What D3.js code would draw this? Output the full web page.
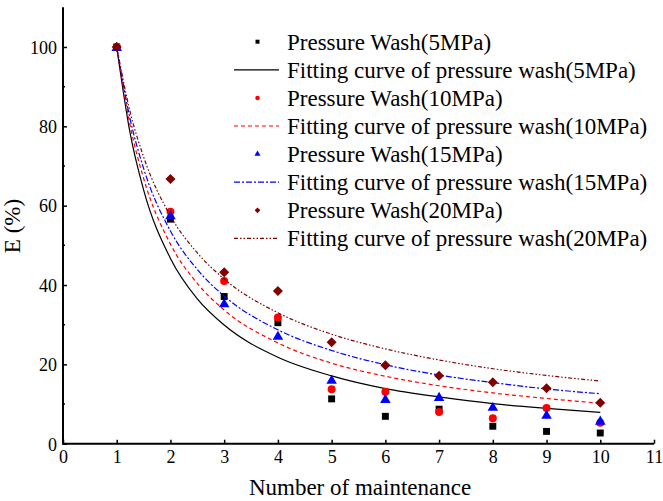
<!DOCTYPE html>
<meta charset="utf-8">
<style>
body { margin: 0; background: #fff; }
text { font-family: "Liberation Serif", "Times New Roman", serif; }
</style>
<body>
<script src="https://d3js.org/d3.v7.min.js"></script>
<script>
// measured points (E %, by number of maintenance)
var runs = [1, 2, 3, 4, 5, 6, 7, 8, 9, 10];
var wash5  = [100, 56.6, 37.1, 30.5, 11.3, 6.9, 8.7, 4.4, 3.1, 2.7];
var wash10 = [100, 58.5, 41.0, 31.8, 13.7, 13.1, 8.0, 6.4, 9.0, 5.3];
var wash15 = [100, 57.6, 35.4, 27.2, 16.1, 11.3, 11.8, 9.3, 7.3, 5.8];
var wash20 = [100, 66.7, 43.2, 38.5, 25.6, 19.8, 17.1, 15.5, 14.0, 10.3];

// fitting curves
var fitX   = [1, 1.25, 1.5, 2, 2.5, 3, 4, 5, 6, 7, 8, 9, 10];
var fit5   = [100, 78.2, 64.0, 46.7, 36.5, 29.9, 21.8, 17.1, 13.9, 11.8, 10.1, 8.9, 7.9];
var fit10  = [100, 80.2, 66.9, 50.3, 40.4, 33.7, 25.4, 20.3, 17.0, 14.6, 12.8, 11.4, 10.2];
var fit15  = [100, 81.8, 69.4, 53.6, 43.9, 37.2, 28.7, 23.5, 19.9, 17.3, 15.4, 13.8, 12.6];
var fit20  = [100, 83.6, 72.3, 57.4, 48.1, 41.5, 33.0, 27.6, 23.9, 21.1, 18.9, 17.2, 15.8];

var xTicks = [0, 1, 2, 3, 4, 5, 6, 7, 8, 9, 10, 11];
var yTicks = [0, 20, 40, 60, 80, 100];

var series = [
  {pts: wash5,  fit: fit5,  color: "#000000", shape: "square",   dash: null,          name: "Pressure Wash(5MPa)",  fitName: "Fitting curve of pressure wash(5MPa)"},
  {pts: wash10, fit: fit10, color: "#ff0000", shape: "circle",   dash: "4,3",         name: "Pressure Wash(10MPa)", fitName: "Fitting curve of pressure wash(10MPa)"},
  {pts: wash15, fit: fit15, color: "#0000ff", shape: "triangle", dash: "6,2,2,2",     name: "Pressure Wash(15MPa)", fitName: "Fitting curve of pressure wash(15MPa)"},
  {pts: wash20, fit: fit20, color: "#800000", shape: "diamond",  dash: "4,2,1.5,2,1.5,2", name: "Pressure Wash(20MPa)", fitName: "Fitting curve of pressure wash(20MPa)"}
];

var W = 663, H = 501;
var x = d3.scaleLinear().domain([0, 11]).range([63, 654]);
var y = d3.scaleLinear().domain([0, 110]).range([443.7, 7.3]);

var svg = d3.select("body").append("svg")
    .attr("width", W)
    .attr("height", H);

// diamond = square turned 45 degrees
function symbolFor(shape, size) {
  var t = {square: d3.symbolSquare, circle: d3.symbolCircle, triangle: d3.symbolTriangle, diamond: d3.symbolSquare}[shape];
  return d3.symbol().type(t).size(size)();
}
var sizes = {square: 48, circle: 50, triangle: 48, diamond: 50};

var line = d3.line()
    .x(function(d) { return x(d[0]); })
    .y(function(d) { return y(d[1]); })
    .curve(d3.curveMonotoneX);

series.forEach(function(s) {
  svg.append("g").selectAll("path")
      .data(s.pts)
    .enter().append("path")
      .attr("d", symbolFor(s.shape, sizes[s.shape]))
      .attr("transform", function(d, i) {
        var dy = s.shape === "triangle" ? 1 : 0;
        return "translate(" + x(runs[i]) + "," + (y(d) + dy) + ")" + (s.shape === "diamond" ? " rotate(45)" : "");
      })
      .attr("fill", s.color);

  svg.append("path")
      .datum(fitX.map(function(v, i) { return [v, s.fit[i]]; }))
      .attr("d", line)
      .attr("fill", "none")
      .attr("stroke", s.color)
      .attr("stroke-width", 1.2)
      .attr("stroke-dasharray", s.dash);
});

// axes
var xAxis = svg.append("g")
    .attr("transform", "translate(0," + y(0) + ")")
    .call(d3.axisBottom(x).tickValues(xTicks).tickSizeInner(-4).tickSizeOuter(0).tickPadding(6).tickFormat(d3.format("d")));
var yAxis = svg.append("g")
    .attr("transform", "translate(" + x(0) + ",0)")
    .call(d3.axisLeft(y).tickValues(yTicks).tickSizeInner(-4).tickSizeOuter(0).tickPadding(6));

// minor y ticks
svg.append("g").selectAll("line")
    .data([10, 30, 50, 70, 90])
  .enter().append("line")
    .attr("x1", x(0)).attr("x2", x(0) + 2)
    .attr("y1", function(d) { return y(d); })
    .attr("y2", function(d) { return y(d); })
    .attr("stroke", "#000").attr("stroke-width", 1.5);

[xAxis, yAxis].forEach(function(a) {
  a.select(".domain").attr("stroke", "#000").attr("stroke-width", 2);
  a.selectAll(".tick line").attr("stroke", "#000").attr("stroke-width", 1.5);
  a.selectAll(".tick text").attr("font-size", 18).attr("fill", "#000");
});
yAxis.select(".domain").attr("d", "M0," + y(110) + "V" + y(0));
xAxis.select(".domain").attr("d", "M" + (x(0) - 1) + ",0H" + x(11));
yAxis.selectAll(".tick text").attr("dy", "0.35em");
xAxis.selectAll(".tick text").attr("dy", "0.75em");

// axis titles
svg.append("text")
    .attr("x", 360).attr("y", 495)
    .attr("text-anchor", "middle")
    .attr("font-size", 23)
    .text("Number of maintenance");
svg.append("text")
    .attr("transform", "translate(20,226) rotate(-90)")
    .attr("text-anchor", "middle")
    .attr("font-size", 23)
    .text("E (%)");

// legend
var legend = svg.append("g");
var rowY = 41.7, rowH = 28.1;
series.forEach(function(s, k) {
  var yy1 = rowY + rowH * 2 * k, yy2 = yy1 + rowH;
  legend.append("path")
      .attr("d", symbolFor(s.shape, 16))
      .attr("transform", "translate(257.5," + yy1 + ")" + (s.shape === "diamond" ? " rotate(45)" : ""))
      .attr("fill", s.color);
  legend.append("text")
      .attr("x", 287).attr("y", yy1).attr("dy", "0.35em")
      .attr("font-size", 23)
      .text(s.name);
  legend.append("line")
      .attr("x1", 234).attr("x2", 279)
      .attr("y1", yy2).attr("y2", yy2)
      .attr("stroke", s.color)
      .attr("stroke-width", 1.2)
      .attr("stroke-dasharray", s.dash);
  legend.append("text")
      .attr("x", 287).attr("y", yy2).attr("dy", "0.35em")
      .attr("font-size", 23)
      .text(s.fitName);
});
</script>
</body>
